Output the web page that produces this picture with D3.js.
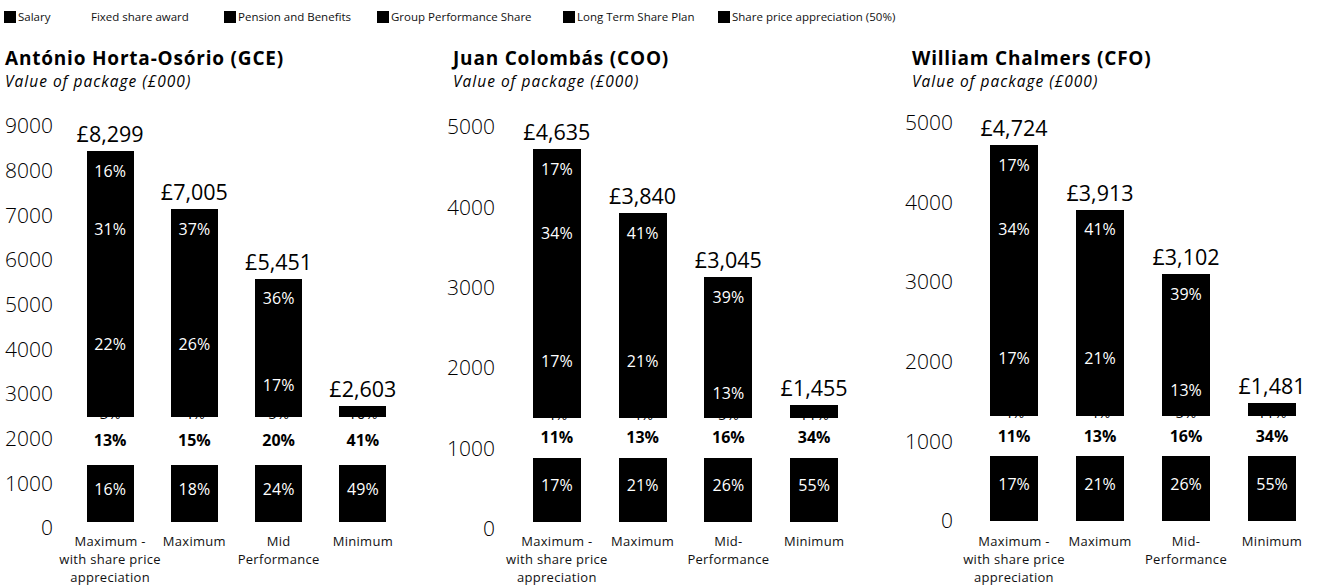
<!DOCTYPE html>
<html><head><meta charset="utf-8">
<script src="https://cdn.jsdelivr.net/npm/d3@7"></script>
<style>body{margin:0;background:#fff}svg{display:block}text{font-family:"Open Sans",Lato,sans-serif}</style>
</head><body><svg id="chart" width="1318" height="585"></svg>
<script>
// ---------- DATA ----------
const seriesNames = ["Salary","Fixed share award","Pension and Benefits","Group Performance Share","Long Term Share Plan","Share price appreciation (50%)"];
const seriesColors = ["#000000","#ffffff","#000000","#000000","#000000","#000000"];
const scenarios = ["Maximum - with share price appreciation","Maximum","Mid Performance","Minimum"];
const people = ["António Horta-Osório (GCE)","Juan Colombás (COO)","William Chalmers (CFO)"];
const subtitleText = "Value of package (£000)";

const yTicksGCE = [0,1000,2000,3000,4000,5000,6000,7000,8000,9000];
const yTicksCOO = [0,1000,2000,3000,4000,5000];
const yTicksCFO = [0,1000,2000,3000,4000,5000];

const catLinesGCE = [["Maximum -","with share price","appreciation"],["Maximum"],["Mid","Performance"],["Minimum"]];
const catLinesCOO = [["Maximum -","with share price","appreciation"],["Maximum"],["Mid-","Performance"],["Minimum"]];
const catLinesCFO = [["Maximum -","with share price","appreciation"],["Maximum"],["Mid-","Performance"],["Minimum"]];

// values in £000, per scenario
const gceSalary  = [1287,1287,1287,1287];
const gceFixed   = [1066,1066,1066,1066];
const gcePension = [250,250,250,250];
const gceGPS     = [1814,1814,907,0];
const gceLTSP    = [2588,2588,1941,0];
const gceSPA     = [1294,0,0,0];

const cooSalary  = [800,800,800,800];
const cooFixed   = [495,495,495,495];
const cooPension = [160,160,160,160];
const cooGPS     = [795,795,398,0];
const cooLTSP    = [1590,1590,1192,0];
const cooSPA     = [795,0,0,0];

const cfoSalary  = [815,815,815,815];
const cfoFixed   = [504,504,504,504];
const cfoPension = [162,162,162,162];
const cfoGPS     = [810,810,405,0];
const cfoLTSP    = [1622,1622,1216,0];
const cfoSPA     = [811,0,0,0];

// percentage labels as printed
const gcePctSalary  = ["16%","18%","24%","49%"];
const gcePctFixed   = ["13%","15%","20%","41%"];
const gcePctPension = ["3%","4%","5%","10%"];
const gcePctGPS     = ["22%","26%","17%",""];
const gcePctLTSP    = ["31%","37%","36%",""];
const gcePctSPA     = ["16%","","",""];

const cooPctSalary  = ["17%","21%","26%","55%"];
const cooPctFixed   = ["11%","13%","16%","34%"];
const cooPctPension = ["4%","4%","5%","11%"];
const cooPctGPS     = ["17%","21%","13%",""];
const cooPctLTSP    = ["34%","41%","39%",""];
const cooPctSPA     = ["17%","","",""];

const cfoPctSalary  = ["17%","21%","26%","55%"];
const cfoPctFixed   = ["11%","13%","16%","34%"];
const cfoPctPension = ["4%","4%","5%","11%"];
const cfoPctGPS     = ["17%","21%","13%",""];
const cfoPctLTSP    = ["34%","41%","39%",""];
const cfoPctSPA     = ["17%","","",""];

// ---------- LAYOUT ----------
const panels = [
  {title: people[0], ticks: yTicksGCE, cats: catLinesGCE,
   values: [gceSalary,gceFixed,gcePension,gceGPS,gceLTSP,gceSPA],
   pcts: [gcePctSalary,gcePctFixed,gcePctPension,gcePctGPS,gcePctLTSP,gcePctSPA],
   titleX: 5, axisRight: 53, band: [68,405], yRange: [522,120], tickDy: 6},
  {title: people[1], ticks: yTicksCOO, cats: catLinesCOO,
   values: [cooSalary,cooFixed,cooPension,cooGPS,cooLTSP,cooSPA],
   pcts: [cooPctSalary,cooPctFixed,cooPctPension,cooPctGPS,cooPctLTSP,cooPctSPA],
   titleX: 453, axisRight: 495, band: [514,857], yRange: [522,120], tickDy: 7},
  {title: people[2], ticks: yTicksCFO, cats: catLinesCFO,
   values: [cfoSalary,cfoFixed,cfoPension,cfoGPS,cfoLTSP,cfoSPA],
   pcts: [cfoPctSalary,cfoPctFixed,cfoPctPension,cfoPctGPS,cfoPctLTSP,cfoPctSPA],
   titleX: 912, axisRight: 953, band: [971,1315], yRange: [521,123], tickDy: 0}
];
const legendX = [4, 77, 224, 377, 563, 718];

const svg = d3.select("#chart");

// legend
const leg = svg.append("g");
seriesNames.forEach((name, i) => {
  const g = leg.append("g").attr("transform", `translate(${legendX[i]},11)`);
  g.append("rect").attr("width", 12).attr("height", 12).attr("fill", seriesColors[i]);
  g.append("text").attr("x", 14).attr("y", 6).attr("dy", "0.35em")
    .attr("font-size", 11.5).attr("font-weight", 400).attr("fill", "#111").text(name);
});

panels.forEach(p => {
  const g = svg.append("g");
  const rows = scenarios.map((s, i) => {
    const o = {scenario: s};
    seriesNames.forEach((n, j) => o[n] = p.values[j][i]);
    return o;
  });
  const stacked = d3.stack().keys(seriesNames)(rows);
  const x = d3.scaleBand().domain(scenarios).range(p.band).paddingInner(0.44).paddingOuter(0.22);
  const y = d3.scaleLinear().domain([0, d3.max(p.ticks)]).range(p.yRange);

  // title
  g.append("text").attr("x", p.titleX).attr("y", 65).attr("font-size", 19).attr("font-weight", 700)
    .attr("letter-spacing", 0.8).attr("fill", "#000").text(p.title);
  g.append("text").attr("x", p.titleX).attr("y", 87).attr("font-size", 15.5).attr("font-style", "italic")
    .attr("letter-spacing", 1).attr("fill", "#000").text(subtitleText);

  // y axis (labels only)
  const ax = g.append("g").attr("transform", `translate(${p.axisRight},0)`)
    .call(d3.axisLeft(y).tickValues(p.ticks).tickSize(0).tickPadding(0).tickFormat(d3.format("d")));
  ax.select(".domain").remove();
  ax.selectAll("text").attr("font-size", 21).attr("font-weight", 300).attr("fill", "#000")
    .attr("font-family", 'Lato,"Open Sans",sans-serif')
    .attr("transform", `translate(0,${p.tickDy})`);

  // bars
  stacked.forEach((layer, j) => {
    g.append("g").attr("shape-rendering", "crispEdges").selectAll("rect").data(layer).join("rect")
      .attr("x", d => x(d.data.scenario))
      .attr("width", x.bandwidth())
      .attr("y", d => y(d[1]))
      .attr("height", d => y(d[0]) - y(d[1]))
      .attr("fill", seriesColors[j]);
  });

  // percentage labels
  stacked.forEach((layer, j) => {
    layer.forEach((d, i) => {
      const label = p.pcts[j][i];
      if (!label) return;
      const y0 = y(d[0]), y1 = y(d[1]);
      let ty, fill = "#fff", weight = 400, size = 16;
      if (j === 0) { ty = (y0 + y1) / 2 - 4; }
      else if (j === 1) { ty = (y0 + y1) / 2; fill = "#000"; weight = 700; }
      else if (j === 2) { ty = y0 - 3; fill = "#000"; weight = 400; size = 15; }
      else { ty = y1 + 20; }
      g.append("text").attr("x", x(d.data.scenario) + x.bandwidth() / 2).attr("y", ty)
        .attr("dy", "0.35em").attr("text-anchor", "middle")
        .attr("font-family", 'Lato,"Open Sans",sans-serif')
        .attr("font-size", size).attr("font-weight", weight).attr("fill", fill).text(label);
    });
  });

  // totals
  const fmt = d3.format(",");
  rows.forEach(r => {
    const total = d3.sum(seriesNames, n => r[n]);
    g.append("text").attr("x", x(r.scenario) + x.bandwidth() / 2).attr("y", y(total) - 9)
      .attr("text-anchor", "middle").attr("font-size", 21.5).attr("font-weight", 400)
      .attr("fill", "#000").text("£" + fmt(total));
  });

  // category labels
  scenarios.forEach((s, i) => {
    const t = g.append("text").attr("text-anchor", "middle").attr("font-size", 13)
      .attr("letter-spacing", 0.3).attr("font-weight", 400).attr("fill", "#111");
    p.cats[i].forEach((line, k) => {
      t.append("tspan").attr("x", x(s) + x.bandwidth() / 2).attr("y", 546 + k * 18).text(line);
    });
  });
});
</script></body></html>
